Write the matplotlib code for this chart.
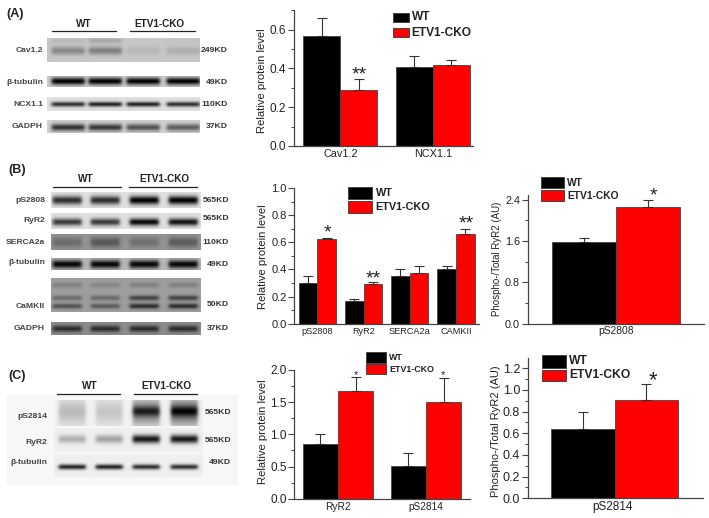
import numpy as np
import matplotlib
matplotlib.use("Agg")
import matplotlib.pyplot as plt
from matplotlib.patches import Rectangle

plt.rcParams['font.family'] = ['Liberation Sans', 'DejaVu Sans']

W, H = 709, 518
BLACK = '#000000'
RED = '#ff0000'
EDGE = '#444444'
TXT = '#222222'

# ---------- bar chart values ----------
a_cats = ['Cav1.2', 'NCX1.1']
a_wt = [0.57, 0.41]
a_wt_top = [0.66, 0.465]
a_ko = [0.29, 0.42]
a_ko_top = [0.345, 0.442]

b_cats = ['pS2808', 'RyR2', 'SERCA2a', 'CAMKII']
b_wt = [0.30, 0.165, 0.355, 0.405]
b_wt_top = [0.355, 0.18, 0.40, 0.425]
b_ko = [0.625, 0.295, 0.375, 0.66]
b_ko_top = [0.635, 0.305, 0.425, 0.70]

b2_wt = [1.574]
b2_wt_top = [1.65]
b2_ko = [2.258]
b2_ko_top = [2.39]

c_cats = ['RyR2', 'pS2814']
c_wt = [0.845, 0.513]
c_wt_top = [1.005, 0.715]
c_ko = [1.68, 1.497]
c_ko_top = [1.886, 1.88]

c2_wt = [0.64]
c2_wt_top = [0.794]
c2_ko = [0.911]
c2_ko_top = [1.052]

# ---------- western blot rows: label, size marker, band darkness per lane ----------
blot_a_names = ['Cav1.2', 'β-tubulin', 'NCX1.1', 'GADPH']
blot_a_kd = ['249KD', '49KD', '110KD', '37KD']
blot_a_dark = [
    [[0.05, 0.12, 0.0, 0.02], [0.25, 0.28, 0.06, 0.10]],
    [[0.80, 0.80, 0.80, 0.80]],
    [[0.70, 0.75, 0.75, 0.70]],
    [[0.62, 0.60, 0.50, 0.45]],
]
blot_b_names = ['pS2808', 'RyR2', 'SERCA2a', 'β-tubulin', 'CaMKII', 'GADPH']
blot_b_kd = ['565KD', '565KD', '110KD', '49KD', '50KD', '37KD']
blot_b_dark = [
    [[0.70, 0.70, 0.88, 0.88]],
    [[0.65, 0.65, 0.85, 0.80]],
    [[0.16, 0.24, 0.14, 0.22]],
    [[0.70, 0.70, 0.70, 0.70]],
    [[0.12, 0.10, 0.12, 0.12], [0.20, 0.20, 0.36, 0.36], [0.30, 0.26, 0.45, 0.45]],
    [[0.38, 0.38, 0.38, 0.38]],
]
blot_c_names = ['pS2814', 'RyR2', 'β-tubulin']
blot_c_kd = ['565KD', '565KD', '49KD']
blot_c_dark = [
    [[0.20, 0.17, 0.45, 0.55], [0.02, 0.0, 0.40, 0.40]],
    [[0.25, 0.30, 0.85, 0.85]],
    [[0.80, 0.80, 0.75, 0.75]],
]


def px_axes(fig, left, right, top, bottom):
    return fig.add_axes([left / W, 1 - bottom / H, (right - left) / W, (bottom - top) / H])


def bar_panel(fig, box, c0, step, bar_w, wt, wt_top, ko, ko_top, ymax, major, minor,
              cats=None, tick_size=7, cat_size=6.5):
    # box is in pixels, c0/step are the pixel centre and spacing of the groups
    ax = px_axes(fig, *box)
    left, right = box[0], box[1]
    x = np.arange(len(wt))
    w = bar_w / step
    wt, ko = np.array(wt), np.array(ko)
    ax.bar(x - w / 2, wt, w, color=BLACK, edgecolor=EDGE, linewidth=0.6)
    ax.bar(x + w / 2, ko, w, color=RED, edgecolor=EDGE, linewidth=0.6)
    for xs, v, t in [(x - w / 2, wt, wt_top), (x + w / 2, ko, ko_top)]:
        ax.errorbar(xs, v, yerr=[np.zeros(len(v)), np.array(t) - v], fmt='none',
                    ecolor='#333333', elinewidth=0.8, capsize=3.5, capthick=0.8)
    ax.set_xlim((left - c0) / step, (right - c0) / step)
    ax.set_ylim(0, ymax)
    ax.set_yticks(np.arange(0, ymax + 1e-6, major))
    ax.set_yticks(np.arange(0, ymax + 1e-6, minor), minor=True)
    ax.set_yticklabels([f'{v:.1f}' for v in np.arange(0, ymax + 1e-6, major)])
    ax.tick_params(axis='y', which='major', length=4, width=0.8, labelsize=tick_size,
                   pad=1.5, color='#444444', labelcolor=TXT)
    ax.tick_params(axis='y', which='minor', length=2, width=0.7, color='#444444')
    if cats:
        ax.set_xticks(x)
        ax.set_xticklabels(cats, fontsize=cat_size, color=TXT)
    else:
        ax.set_xticks([])
    ax.tick_params(axis='x', length=0, pad=2.5)
    for s in ['top', 'right']:
        ax.spines[s].set_visible(False)
    for s in ['left', 'bottom']:
        ax.spines[s].set_color('#444444')
        ax.spines[s].set_linewidth(0.9)
    return ax


def draw_blot(ov, x0, x1, y0, y1, lanes, lane_w, bg, band_pos, band_thick, dark):
    xs = np.arange(x0, x1, 0.5)
    ys = np.arange(y0, y1, 0.5)
    img = np.full((len(ys), len(xs)), float(bg))
    for pos, thick, row in zip(band_pos, band_thick, dark):
        gy = np.exp(-((ys - (y0 + pos * (y1 - y0))) / thick) ** 2)
        for lane, d in zip(lanes, row):
            gx = 0.5 * (np.tanh((xs - lane + lane_w / 2) / 2.0) - np.tanh((xs - lane - lane_w / 2) / 2.0))
            img -= d * np.outer(gy, gx)
    ov.imshow(np.clip(img, 0, 1), cmap='gray', vmin=0, vmax=1, extent=(x0, x1, y1, y0),
              aspect='auto', interpolation='bilinear', zorder=2)


def legend_box(ov, x0, x1, rows, text_x, size):
    for (y0, y1), col, name in zip(rows, [BLACK, RED], ['WT', 'ETV1-CKO']):
        ov.add_patch(Rectangle((x0, y0), x1 - x0, y1 - y0, facecolor=col, edgecolor=EDGE,
                               linewidth=0.7, zorder=5))
        ov.text(text_x, (y0 + y1) / 2, name, fontsize=size, fontweight='bold', color=TXT,
                ha='left', va='center', zorder=5)


def blot_labels(ov, names, kds, name_x, kd_x, name_y, kd_y):
    for n, k, ny, ky in zip(names, kds, name_y, kd_y):
        ov.text(name_x, ny, n, fontsize=6.1, fontweight='bold', color='#444444', ha='right', va='center')
        ov.text(kd_x, ky, k, fontsize=6.1, fontweight='bold', color='#333333', ha='right', va='center')


def header(ov, wt_x, ko_x, text_y, line_y, wt_span, ko_span):
    ov.text(wt_x, text_y, 'WT', fontsize=7.2, fontweight='bold', color='#222222', ha='center', va='center')
    ov.text(ko_x, text_y, 'ETV1-CKO', fontsize=7.2, fontweight='bold', color='#222222', ha='center', va='center')
    ov.plot(wt_span, [line_y, line_y], color='#222222', lw=0.9)
    ov.plot(ko_span, [line_y, line_y], color='#222222', lw=0.9)


fig = plt.figure(figsize=(W / 100, H / 100), dpi=100)

# ---------- bar panels ----------
bar_panel(fig, (294, 473, 10.3, 146), 340.3, 92.4, 37, a_wt, a_wt_top, a_ko, a_ko_top, 0.7, 0.2, 0.1,
          cats=a_cats, tick_size=8.5, cat_size=7.8)
bar_panel(fig, (294.3, 479, 188, 323.7), 317.3, 46.2, 18.67, b_wt, b_wt_top, b_ko, b_ko_top, 1.0, 0.2, 0.1,
          cats=b_cats, tick_size=8, cat_size=6.6)
bar_panel(fig, (527.7, 704, 195, 323.7), 615.7, 76.7, 64, b2_wt, b2_wt_top, b2_ko, b2_ko_top, 2.49, 0.8, 0.4,
          tick_size=7.8)
bar_panel(fig, (294.3, 470, 370, 498.7), 338, 88, 35.3, c_wt, c_wt_top, c_ko, c_ko_top, 2.0, 0.5, 0.25,
          cats=c_cats, tick_size=8.5, cat_size=7.3)
bar_panel(fig, (527.7, 703, 357.7, 498.3), 614.5, 76.5, 63.5, c2_wt, c2_wt_top, c2_ko, c2_ko_top, 1.298, 0.2, 0.1,
          tick_size=9)

# overlay in pixel coordinates for the blots, legends and text
ov = fig.add_axes([0, 0, 1, 1], zorder=10)
ov.patch.set_alpha(0)
ov.axis('off')

# ---------- panel A blots ----------
a_rows = [(38, 62), (76, 87), (97, 111), (120, 133)]
a_bg = [0.78, 0.80, 0.88, 0.82]
a_pos = [[0.1, 0.52], [0.45], [0.5], [0.55]]
a_thick = [[2.5, 4], [3.5], [2.4], [3.5]]
for r, bg, p, t, d in zip(a_rows, a_bg, a_pos, a_thick, blot_a_dark):
    draw_blot(ov, 47, 200, r[0], r[1], [68, 105, 143, 183], 33, bg, p, t, d)
blot_labels(ov, blot_a_names, blot_a_kd, 43, 228, [50, 82, 104, 126], [50, 83, 104, 126])
header(ov, 84, 159, 24, 31, [52, 116], [130, 195])
ov.text(6, 14, '(A)', fontsize=9, fontweight='bold', color=TXT, va='center')

# ---------- panel B blots ----------
b_rows = [(192, 208), (213, 229), (234, 250), (258, 270), (278, 312), (322, 335)]
b_bg = [0.88, 0.88, 0.58, 0.72, 0.62, 0.55]
b_pos = [[0.5], [0.55], [0.5], [0.5], [0.2, 0.58, 0.82], [0.5]]
b_thick = [[4.2], [3.6], [5], [4], [2.6, 2.6, 2.6], [3.2]]
for r, bg, p, t, d in zip(b_rows, b_bg, b_pos, b_thick, blot_b_dark):
    draw_blot(ov, 51, 201, r[0], r[1], [67, 105, 144, 183], 29, bg, p, t, d)
blot_labels(ov, blot_b_names, blot_b_kd, 45, 229, [201, 221, 242, 263, 307, 329], [200, 219, 242, 264, 305, 328])
header(ov, 86, 164, 179, 187, [53, 121], [129, 197])
ov.text(8, 170, '(B)', fontsize=9, fontweight='bold', color=TXT, va='center')

# ---------- panel C blots ----------
ov.add_patch(Rectangle((7, 395), 231, 90, facecolor='#f7f7f7', edgecolor='none', zorder=1))
c_rows = [(400, 426), (428, 452), (454, 477)]
c_bg = [0.95, 0.94, 0.94]
c_pos = [[0.45, 0.42], [0.45], [0.55]]
c_thick = [[14, 5], [4.2], [2.6]]
for r, bg, p, t, d in zip(c_rows, c_bg, c_pos, c_thick, blot_c_dark):
    draw_blot(ov, 54, 203, r[0], r[1], [72, 109, 146, 184], 27, bg, p, t, d)
blot_labels(ov, blot_c_names, blot_c_kd, 47.5, 231, [416, 443, 463], [413, 440, 463])
header(ov, 90, 166, 386, 394, [57, 120], [134, 197])
ov.text(8, 376, '(C)', fontsize=9, fontweight='bold', color=TXT, va='center')

# ---------- rotated axis titles, legends, stars ----------
ov.text(262, 81, 'Relative protein level', rotation=90, fontsize=8.1, color=TXT, ha='center', va='center')
ov.text(263, 257, 'Relative protein level', rotation=90, fontsize=8.1, color=TXT, ha='center', va='center')
ov.text(263, 432, 'Relative protein level', rotation=90, fontsize=8.1, color=TXT, ha='center', va='center')
ov.text(497, 259, 'Phospho-/Total RyR2 (AU)', rotation=90, fontsize=7, color=TXT, ha='center', va='center')
ov.text(496, 431, 'Phospho-/Total RyR2 (AU)', rotation=90, fontsize=8, color=TXT, ha='center', va='center')
ov.text(615.7, 331, 'pS2808', fontsize=7.4, color=TXT, ha='center', va='center')
ov.text(613, 507, 'pS2814', fontsize=8.5, color=TXT, ha='center', va='center')

legend_box(ov, 392.7, 409, [(13.3, 21.7), (28.3, 36.7)], 411.7, 8.6)
legend_box(ov, 347.7, 372.3, [(186.7, 199.3), (200.7, 212.7)], 375.7, 7.8)
legend_box(ov, 540.7, 563.7, [(176.7, 188.3), (190, 201.3)], 567, 7.4)
legend_box(ov, 365.7, 386, [(351.7, 362.7), (364, 374)], 389, 6.4)
legend_box(ov, 542.3, 565.7, [(355, 367.7), (370, 381)], 569, 8.7)

for x, y, s, size in [(359, 74.5, '**', 14), (327, 232.5, '*', 14), (373.5, 278.5, '**', 14), (466, 223.5, '**', 14),
                      (653, 195.5, '*', 14), (356.3, 375, '*', 8), (443.3, 375, '*', 8), (653, 381, '*', 16)]:
    ov.text(x, y, s, fontsize=size, color=TXT, ha='center', va='center')

ov.set_xlim(0, W)
ov.set_ylim(H, 0)

fig.savefig('out.png', dpi=100)
